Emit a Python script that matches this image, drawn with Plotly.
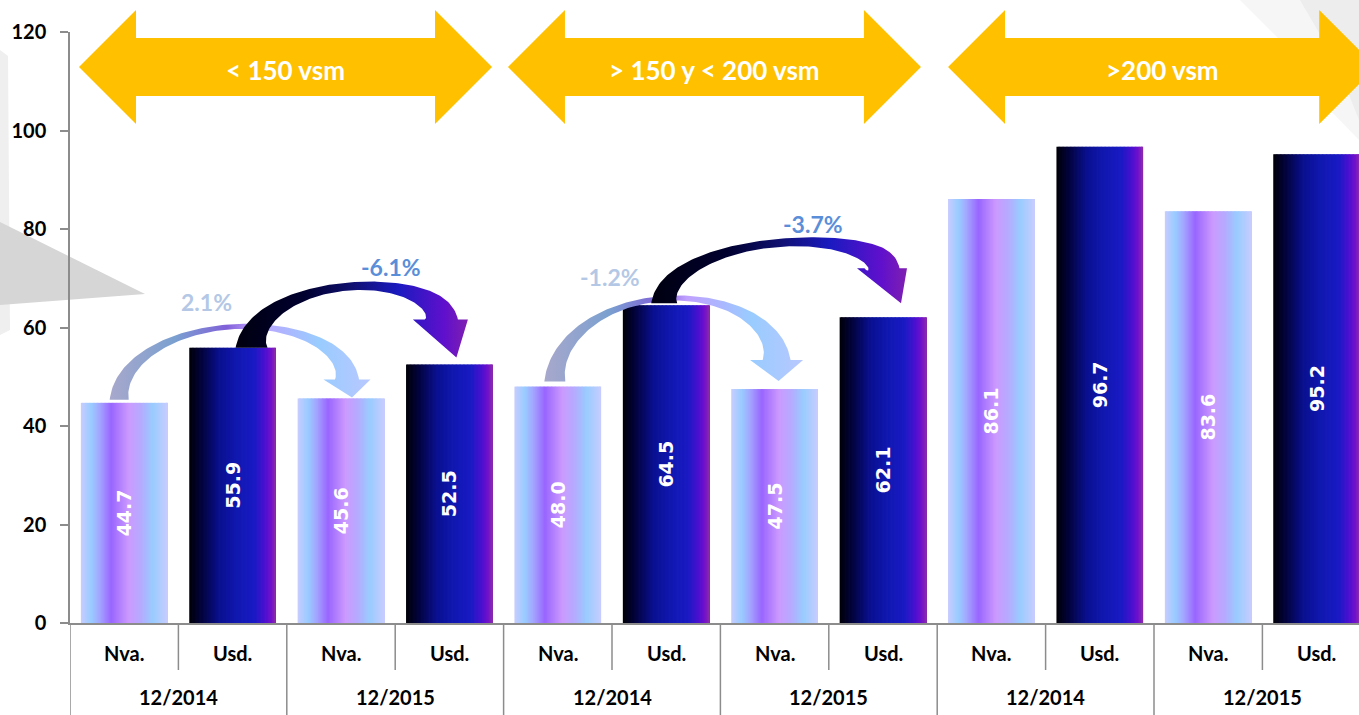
import numpy as np
import plotly.graph_objects as go

# ---------------- data ----------------
size_groups = ["< 150 vsm", "> 150 y < 200 vsm", ">200 vsm"]
periods = ["12/2014", "12/2015"]
types = ["Nva.", "Usd."]
values = [44.7, 55.9, 45.6, 52.5, 48.0, 64.5, 47.5, 62.1, 86.1, 96.7, 83.6, 95.2]
bar_types = ["Nva.", "Usd."] * 6
period_of_bar = ["12/2014", "12/2014", "12/2015", "12/2015"] * 3
change_labels = ["2.1%", "-6.1%", "-1.2%", "-3.7%"]
change_from = [0, 1, 4, 5]
change_to = [2, 3, 6, 7]
y_ticks = [0, 20, 40, 60, 80, 100, 120]

# ---------------- geometry / style ----------------
W, H = 1359, 715
ML, MT, MR, MB = 70, 32, 0, 92
PW, PH = W - ML - MR, H - MT - MB
X_LO = -0.5
CAT_PX = 108.4
X_HI = X_LO + PW / CAT_PX
Y_LO, Y_HI = 0, 120
PXU = CAT_PX
PYU = PH / (Y_HI - Y_LO)

FONT = "Lato"
GREY = "#8c8c8c"

OX, OY = ML, MT + PH  # plot left / plot bottom in picture pixels


def x2px(x):
    return OX + (x - X_LO) * PXU


def px2x(p):
    return (p - OX) / PXU + X_LO


def y2px(v):
    return OY - (v - Y_LO) * PYU


def px2y(p):
    return (OY - p) / PYU + Y_LO


def px2py(p):
    return (OY - p) / PH


def px2pxp(p):
    return (p - OX) / PW


def hex2rgb(h):
    h = h.lstrip("#")
    return np.array([int(h[i:i + 2], 16) for i in (0, 2, 4)], dtype=float)


def sample(stops, t):
    ts = [s[0] for s in stops]
    for i in range(len(stops) - 1):
        if ts[i] <= t <= ts[i + 1]:
            f = (t - ts[i]) / (ts[i + 1] - ts[i]) if ts[i + 1] > ts[i] else 0
            c = hex2rgb(stops[i][1]) * (1 - f) + hex2rgb(stops[i + 1][1]) * f
            return "rgb(%d,%d,%d)" % tuple(np.round(c))
    return stops[-1][1]


NVA_STOPS = [(0, "#c8ccff"), (0.12, "#99ccff"), (0.22, "#a4a4ff"), (0.35, "#9966ff"),
             (0.55, "#cc99ff"), (0.7, "#b4acff"), (0.83, "#99ccff"), (1, "#c8ccff")]
USD_STOPS = [(0, "#000008"), (0.15, "#030340"), (0.35, "#0a1090"), (0.55, "#1018b0"),
             (0.75, "#1a1ac4"), (0.87, "#4a10d0"), (0.94, "#7010cc"), (1, "#8a2aa8")]
LIGHT_ARROW = [[0, "#a8a8cc"], [0.25, "#7aa0d0"], [0.45, "#8060d8"], [0.55, "#c0a0ff"],
               [0.8, "#99ccff"], [1, "#b8c8ff"]]
DARK_ARROW = [[0, "#000010"], [0.3, "#000030"], [0.5, "#101070"], [0.7, "#1a1ac0"],
              [0.9, "#6010cc"], [1, "#8020b0"]]

fig = go.Figure()

# ---------------- gradient bars (thin slices of each bar) ----------------
idx = list(range(len(values)))
BAR_W = 0.8
N_SL = 64
sl = BAR_W / N_SL
for k in range(N_SL):
    t = (k + 0.5) / N_SL
    cn, cu = sample(NVA_STOPS, t), sample(USD_STOPS, t)
    cols = [cn if bt == "Nva." else cu for bt in bar_types]
    wk = sl * 1.6 if k < N_SL - 1 else sl
    fig.add_trace(go.Bar(x=idx, y=values, width=wk, offset=-BAR_W / 2 + k * sl,
                         marker=dict(color=cols, line=dict(width=0)),
                         hoverinfo="skip", showlegend=False))

# value labels
fig.add_trace(go.Bar(x=idx, y=values, width=BAR_W, marker=dict(color="rgba(0,0,0,0)", line=dict(width=0)),
                     text=["%.1f" % v for v in values], textposition="inside", textangle=-90,
                     insidetextanchor="middle", constraintext="none",
                     textfont=dict(family="DejaVu Sans", size=19, color="white", weight="bold"),
                     hoverinfo="skip", showlegend=False))

# ---------------- curved change arrows ----------------
# start_dx, start_gap, end_dx, tip_gap, peak_above, w0, wm, w1, head_w, head_len, tip_dx, lbl_dx, lbl_dy, dark
arrow_style = [
    (-5, 3, 6, 1, 21, 19, 5, 24, 47, 18, 5, -27, 24, False),
    (19, 0, -9, 7, 61, 32, 8, 35, 55, 38, 16, 45, 19, True),
    (-3, 5, 2, 8, 7, 21, 5, 28, 53, 21, 2, -56, 21, False),
    (-2, 2, -1, 14, 62, 26, 8, 35, 50, 35, 19, 40, 18, True),
]


def width_at(t, w0, wm, w1):
    if t < 0.5:
        return wm + (w0 - wm) * (1 - 2 * t) ** 2
    return wm + (w1 - wm) * (2 * t - 1) ** 2


order = sorted(range(4), key=lambda j: arrow_style[j][13])
for j in order:
    (sdx, sgap, edx, tgap, peak_above, w0, wm, w1, hw, hl, tdx, ldx, ldy, dark) = arrow_style[j]
    i0, i1 = change_from[j], change_to[j]
    sx = x2px(i0) + sdx
    sy = y2px(values[i0]) - sgap
    tip_y = y2px(values[i1]) - tgap
    ex = x2px(i1) + edx
    ey = tip_y - hl
    peak = y2px(max(values[i0], values[i0 + 1])) - peak_above
    cx, a = (sx + ex) / 2, (ex - sx) / 2
    b = (sy + ey) / 2 - peak
    ts = np.linspace(0, 1, 120)
    X = cx - a * np.cos(np.pi * ts)
    Y = sy + (ey - sy) * ts - b * np.sin(np.pi * ts)
    dX = a * np.pi * np.sin(np.pi * ts)
    dY = (ey - sy) - b * np.pi * np.cos(np.pi * ts)
    nrm = np.hypot(dX, dY)
    nx, ny = -dY / nrm, dX / nrm
    wv = np.array([width_at(t, w0, wm, w1) for t in ts])
    inner_x, inner_y = X + nx * wv / 2, Y + ny * wv / 2
    outer_x, outer_y = X - nx * wv / 2, Y - ny * wv / 2
    Ex, Ey = X[-1], Y[-1]
    hx = [Ex + nx[-1] * hw / 2, Ex + tdx, Ex - nx[-1] * hw / 2]
    hy = [Ey + ny[-1] * hw / 2, Ey + hl, Ey - ny[-1] * hw / 2]
    px_x = list(inner_x) + hx + list(outer_x[::-1]) + [inner_x[0]]
    px_y = list(inner_y) + hy + list(outer_y[::-1]) + [inner_y[0]]
    fig.add_trace(go.Scatter(x=[px2x(p) for p in px_x], y=[px2y(p) for p in px_y],
                             mode="lines", line=dict(width=0, color="rgba(0,0,0,0)"),
                             fill="toself",
                             fillgradient=dict(type="horizontal",
                                               colorscale=DARK_ARROW if dark else LIGHT_ARROW),
                             hoverinfo="skip", showlegend=False))
    pk_i = int(np.argmin(Y))
    fig.add_annotation(x=px2x(cx + ldx), y=px2y(Y[pk_i] - ldy), xref="x", yref="y",
                       xanchor="center", yanchor="middle",
                       text="<b>%s</b>" % change_labels[j], showarrow=False,
                       font=dict(family=FONT, size=23, color="#5b8ed8" if dark else "#b4c8e6"))

# ---------------- background decoration ----------------
shapes = []


def poly(pts):
    return "M " + " L ".join("%f,%f" % (px2pxp(x), px2py(y)) for x, y in pts) + " Z"


shapes.append(dict(type="path", xref="paper", yref="paper", layer="below",
                   path=poly([(0, 50), (8, 56), (10, 330), (0, 335)]),
                   fillcolor="#efefef", line=dict(width=0)))
shapes.append(dict(type="path", xref="paper", yref="paper", layer="below",
                   path=poly([(0, 222), (145, 294), (0, 305)]),
                   fillcolor="#d6d6d6", line=dict(width=0)))
shapes.append(dict(type="path", xref="paper", yref="paper", layer="below",
                   path=poly([(1240, 0), (1359, 0), (1359, 140), (1325, 105), (1285, 45)]),
                   fillcolor="rgba(228,228,228,0.35)", line=dict(width=0)))
shapes.append(dict(type="path", xref="paper", yref="paper", layer="below",
                   path=poly([(1300, 0), (1359, 0), (1359, 120), (1335, 60)]),
                   fillcolor="rgba(215,215,215,0.3)", line=dict(width=0)))

# ---------------- size-group double arrows ----------------
ins_l = [0.083, 0.04, 0.10]
ins_r = [0.107, 0.15, -0.05]
yc, sh, hh = px2py(67), 29 / PH, 57 / PH
hlen = 57 / PXU
for g, name in enumerate(size_groups):
    xl = 4 * g - 0.5 + ins_l[g]
    xr = 4 * g + 3.5 - ins_r[g]
    pts = [(xl, yc), (xl + hlen, yc + hh), (xl + hlen, yc + sh), (xr - hlen, yc + sh),
           (xr - hlen, yc + hh), (xr, yc), (xr - hlen, yc - hh), (xr - hlen, yc - sh),
           (xl + hlen, yc - sh), (xl + hlen, yc - hh)]
    path = "M " + " L ".join("%f,%f" % p for p in pts) + " Z"
    shapes.append(dict(type="path", xref="x", yref="paper", path=path,
                       fillcolor="#ffc000", line=dict(width=0), layer="above"))
    fig.add_annotation(x=(xl + xr) / 2, y=yc - 3 / PH, xref="x", yref="paper",
                       xanchor="center", yanchor="middle",
                       text="<b>%s</b>" % name, showarrow=False,
                       font=dict(family=FONT, size=26, color="white"))

# ---------------- category axis: separators & labels ----------------
short_d = -47 / PH
long_d = -(MB + 2) / PH
for k in range(len(values) + 1):
    xb = k - 0.5
    shapes.append(dict(type="line", xref="x", yref="paper", x0=xb, x1=xb, y0=0,
                       y1=long_d if k % 2 == 0 else short_d,
                       line=dict(color=GREY, width=1.5), layer="above"))
for i, bt in enumerate(bar_types):
    fig.add_annotation(x=i, y=px2py(653), xref="x", yref="paper", text="<b>%s</b>" % bt,
                       xanchor="center", yanchor="middle",
                       showarrow=False, font=dict(family=FONT, size=20, color="black"))
for p in range(len(values) // 2):
    fig.add_annotation(x=2 * p + 0.5, y=px2py(697), xref="x", yref="paper",
                       xanchor="center", yanchor="middle",
                       text="<b>%s</b>" % period_of_bar[2 * p], showarrow=False,
                       font=dict(family=FONT, size=20, color="black"))

fig.update_layout(
    width=W, height=H, barmode="overlay",
    margin=dict(l=ML, r=MR, t=MT, b=MB, autoexpand=False),
    plot_bgcolor="rgba(0,0,0,0)", paper_bgcolor="white",
    shapes=shapes, showlegend=False,
    xaxis=dict(range=[X_LO, X_HI], showticklabels=False, showgrid=False, zeroline=False,
               showline=True, linecolor=GREY, linewidth=1.5, ticks=""),
    yaxis=dict(range=[Y_LO, Y_HI], tickvals=y_ticks, showgrid=False, zeroline=False,
               showline=True, linecolor=GREY, linewidth=1.5, ticks="outside", ticklen=8,
               tickcolor=GREY, tickwidth=1.5, ticklabelstandoff=10,
               tickfont=dict(family=FONT, size=20, color="black", weight="bold")),
)

fig.write_html("out.html", config={"displayModeBar": False}, post_script=(
    "document.body.style.margin='0px';"
    "document.body.style.overflow='hidden';"
    "document.documentElement.style.overflow='hidden';"))
